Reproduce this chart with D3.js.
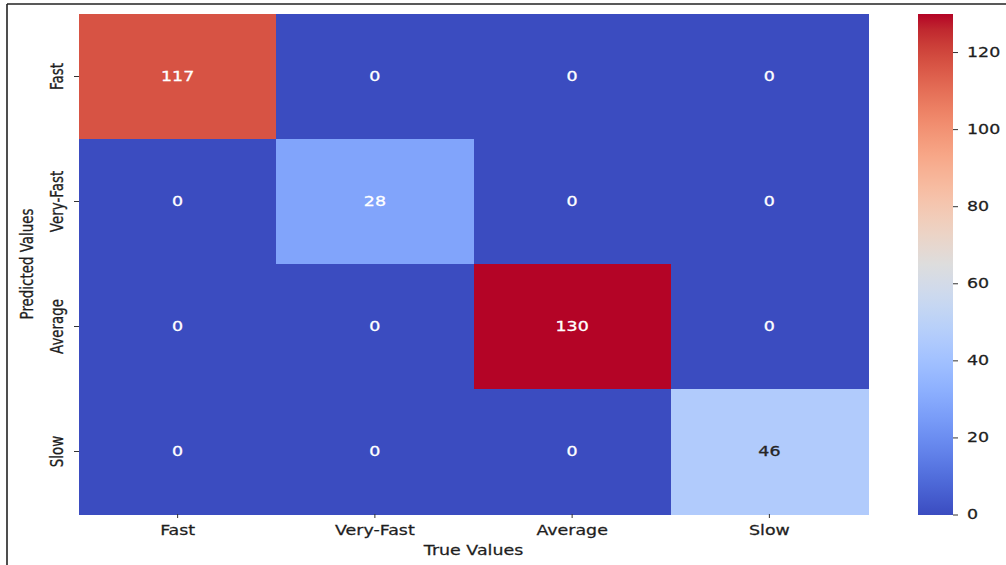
<!DOCTYPE html>
<html>
<head>
<meta charset="utf-8">
<script src="https://cdn.jsdelivr.net/npm/d3@7"></script>
<style>
  html, body { margin: 0; padding: 0; background: #fff; }
  svg { display: block; }
  text { font-family: "DejaVu Sans", sans-serif; }
</style>
</head>
<body>
<svg id="chart" width="1006" height="565"></svg>
<script>
// Confusion matrix: rows = predicted class, columns = true class
const classes = ["Fast", "Very-Fast", "Average", "Slow"];
const matrix = [
  [117, 0, 0, 0],
  [0, 28, 0, 0],
  [0, 0, 130, 0],
  [0, 0, 0, 46]
];
const colorbarTicks = [0, 20, 40, 60, 80, 100, 120];
const valueMin = 0;
const valueMax = 130;

// Moreland "coolwarm" diverging map, 33 anchor colours
const coolwarmStops = [
  [59,76,192],[68,90,204],[77,104,215],[87,117,225],[98,130,234],[108,142,241],
  [119,154,247],[130,165,251],[141,176,254],[152,185,255],[163,194,255],[174,201,253],
  [184,208,249],[194,213,244],[204,217,238],[213,219,230],[221,221,221],[229,216,209],
  [236,211,197],[241,204,185],[245,196,173],[247,187,160],[247,177,148],[247,166,135],
  [244,154,123],[241,141,111],[236,127,99],[229,112,88],[222,96,77],[213,80,66],
  [203,62,56],[192,40,47],[180,4,38]
];
const coolwarm = d3.scaleLinear()
  .domain(coolwarmStops.map((_, i) => i / (coolwarmStops.length - 1)))
  .range(coolwarmStops.map(c => d3.rgb(c[0], c[1], c[2]).toString()))
  .interpolate(d3.interpolateRgb)
  .clamp(true);
const norm = d3.scaleLinear().domain([valueMin, valueMax]).range([0, 1]).clamp(true);
const colorOf = v => coolwarm(norm(v));

// Text is widened horizontally so glyphs keep the figure's proportions
const SX = 1.3;
const FONT = 13.4;
const INK = "#1e1e1e";

const svg = d3.select("#chart");

// frame lines on the left and top
svg.append("line").attr("x1", 7).attr("y1", 4).attr("x2", 7).attr("y2", 565)
  .attr("stroke", "#222").attr("stroke-width", 1.6);
svg.append("line").attr("x1", 7).attr("y1", 4).attr("x2", 1006).attr("y2", 4)
  .attr("stroke", "#222").attr("stroke-width", 1.6);

const heat = { left: 79, right: 868, top: 14, bottom: 514 };
const x = d3.scaleBand().domain(classes).range([heat.left, heat.right]);
const y = d3.scaleBand().domain(classes).range([heat.top, heat.bottom]);

const cells = [];
matrix.forEach((row, i) => row.forEach((v, j) => cells.push({ pred: classes[i], truth: classes[j], v })));

svg.append("g").attr("shape-rendering", "crispEdges")
  .selectAll("rect").data(cells).join("rect")
  .attr("x", d => x(d.truth))
  .attr("y", d => y(d.pred))
  .attr("width", x.bandwidth() + 0.5)
  .attr("height", y.bandwidth() + 0.5)
  .attr("fill", d => colorOf(d.v));

// annotation colour follows the cell's relative luminance
function luminance(col) {
  const c = d3.rgb(col);
  const f = u => { u /= 255; return u <= 0.03928 ? u / 12.92 : Math.pow((u + 0.055) / 1.055, 2.4); };
  return 0.2126 * f(c.r) + 0.7152 * f(c.g) + 0.0722 * f(c.b);
}

svg.append("g").selectAll("text").data(cells).join("text")
  .attr("transform", d => `translate(${x(d.truth) + x.bandwidth() / 2},${y(d.pred) + y.bandwidth() / 2}) scale(${SX},1)`)
  .attr("text-anchor", "middle")
  .attr("dominant-baseline", "central")
  .attr("font-size", FONT)
  .attr("fill", d => luminance(colorOf(d.v)) > 0.408 ? "#262626" : "#ffffff")
  .attr("stroke", d => luminance(colorOf(d.v)) > 0.408 ? "#262626" : "#ffffff")
  .attr("stroke-width", 0.3)
  .text(d => d.v);

// x axis
const xAxis = svg.append("g");
xAxis.selectAll("line").data(classes).join("line")
  .attr("x1", d => x(d) + x.bandwidth() / 2).attr("x2", d => x(d) + x.bandwidth() / 2)
  .attr("y1", heat.bottom).attr("y2", heat.bottom + 4)
  .attr("stroke", "#333").attr("stroke-width", 1);
xAxis.selectAll("text").data(classes).join("text")
  .attr("transform", d => `translate(${x(d) + x.bandwidth() / 2},${heat.bottom + 21}) scale(${SX},1)`)
  .attr("text-anchor", "middle")
  .attr("font-size", FONT)
  .attr("fill", INK).attr("stroke", INK).attr("stroke-width", 0.25)
  .text(d => d);
svg.append("text")
  .attr("transform", `translate(${(heat.left + heat.right) / 2},${heat.bottom + 41}) scale(${SX},1)`)
  .attr("text-anchor", "middle")
  .attr("font-size", FONT)
  .attr("fill", INK).attr("stroke", INK).attr("stroke-width", 0.25)
  .text("True Values");

// y axis
const yAxis = svg.append("g");
yAxis.selectAll("line").data(classes).join("line")
  .attr("x1", heat.left - 5).attr("x2", heat.left)
  .attr("y1", d => y(d) + y.bandwidth() / 2).attr("y2", d => y(d) + y.bandwidth() / 2)
  .attr("stroke", "#333").attr("stroke-width", 1);
yAxis.selectAll("text").data(classes).join("text")
  .attr("transform", d => `translate(${heat.left - 16},${y(d) + y.bandwidth() / 2}) scale(${SX},1) rotate(-90)`)
  .attr("text-anchor", "middle")
  .attr("font-size", FONT)
  .attr("fill", INK).attr("stroke", INK).attr("stroke-width", 0.25)
  .text(d => d);
svg.append("text")
  .attr("transform", `translate(${heat.left - 46},${(heat.top + heat.bottom) / 2}) scale(${SX},1) rotate(-90)`)
  .attr("text-anchor", "middle")
  .attr("font-size", FONT)
  .attr("fill", INK).attr("stroke", INK).attr("stroke-width", 0.25)
  .text("Predicted Values");

// colour bar
const bar = { left: 918, right: 953, top: 14, bottom: 515 };
const cb = d3.scaleLinear().domain([valueMin, valueMax]).range([bar.bottom, bar.top]);
const grad = svg.append("defs").append("linearGradient")
  .attr("id", "cbGrad").attr("x1", 0).attr("y1", 1).attr("x2", 0).attr("y2", 0);
grad.selectAll("stop").data(coolwarmStops).join("stop")
  .attr("offset", (_, i) => i / (coolwarmStops.length - 1))
  .attr("stop-color", c => d3.rgb(c[0], c[1], c[2]).toString());
svg.append("rect")
  .attr("x", bar.left).attr("y", cb(valueMax))
  .attr("width", bar.right - bar.left).attr("height", cb(valueMin) - cb(valueMax))
  .attr("fill", "url(#cbGrad)");
const cbAxis = svg.append("g");
cbAxis.selectAll("line").data(colorbarTicks).join("line")
  .attr("x1", bar.right).attr("x2", bar.right + 5)
  .attr("y1", d => cb(d)).attr("y2", d => cb(d))
  .attr("stroke", "#333").attr("stroke-width", 1);
cbAxis.selectAll("text").data(colorbarTicks).join("text")
  .attr("transform", d => `translate(${bar.right + 14},${cb(d)}) scale(${SX},1)`)
  .attr("dominant-baseline", "central")
  .attr("font-size", FONT)
  .attr("fill", INK).attr("stroke", INK).attr("stroke-width", 0.25)
  .text(d => d);
</script>
</body>
</html>
